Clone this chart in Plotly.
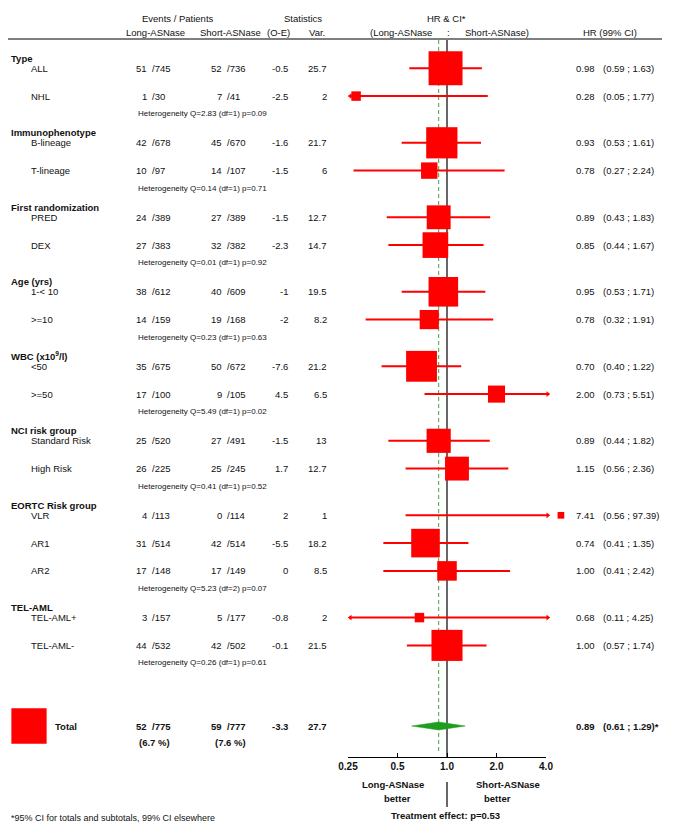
import math
import plotly.graph_objects as go

FONT = "Liberation Sans, Arial, sans-serif"
INK = "#111111"
RED = "#ff0000"
GREEN = "#1e9e1e"

# --- data -----------------------------------------------------------------
group_names = ["Type", "Immunophenotype", "First randomization", "Age (yrs)",
               "WBC (x10<sup>9</sup>/l)", "NCI risk group", "EORTC Risk group", "TEL-AML"]
group_sizes = [2, 2, 2, 2, 2, 2, 3, 2]
heterogeneity = ["Q=2.83 (df=1) p=0.09", "Q=0.14 (df=1) p=0.71", "Q=0.01 (df=1) p=0.92",
                 "Q=0.23 (df=1) p=0.63", "Q=5.49 (df=1) p=0.02", "Q=0.41 (df=1) p=0.52",
                 "Q=5.23 (df=2) p=0.07", "Q=0.26 (df=1) p=0.61"]

item_labels = ["ALL", "NHL", "B-lineage", "T-lineage", "PRED", "DEX", "1-< 10", ">=10",
               "<50", ">=50", "Standard Risk", "High Risk", "VLR", "AR1", "AR2",
               "TEL-AML+", "TEL-AML-"]
long_events = [51, 1, 42, 10, 24, 27, 38, 14, 35, 17, 25, 26, 4, 31, 17, 3, 44]
long_patients = [745, 30, 678, 97, 389, 383, 612, 159, 675, 100, 520, 225, 113, 514, 148, 157, 532]
short_events = [52, 7, 45, 14, 27, 32, 40, 19, 50, 9, 27, 25, 0, 42, 17, 5, 42]
short_patients = [736, 41, 670, 107, 389, 382, 609, 168, 672, 105, 491, 245, 114, 514, 149, 177, 502]
o_minus_e = [-0.5, -2.5, -1.6, -1.5, -1.5, -2.3, -1, -2, -7.6, 4.5, -1.5, 1.7, 2, -5.5, 0, -0.8, -0.1]
variance = [25.7, 2, 21.7, 6, 12.7, 14.7, 19.5, 8.2, 21.2, 6.5, 13, 12.7, 1, 18.2, 8.5, 2, 21.5]
hr = [0.98, 0.28, 0.93, 0.78, 0.89, 0.85, 0.95, 0.78, 0.70, 2.00, 0.89, 1.15, 7.41, 0.74, 1.00, 0.68, 1.00]
ci_low = [0.59, 0.05, 0.53, 0.27, 0.43, 0.44, 0.53, 0.32, 0.40, 0.73, 0.44, 0.56, 0.56, 0.41, 0.41, 0.11, 0.57]
ci_high = [1.63, 1.77, 1.61, 2.24, 1.83, 1.67, 1.71, 1.91, 1.22, 5.51, 1.82, 2.36, 97.39, 1.35, 2.42, 4.25, 1.74]

total_events = [52, 59]
total_patients = [775, 777]
total_oe = -3.3
total_var = 27.7
total_hr = 0.89
total_ci = [0.61, 1.29]
treatment_p = 0.53

tick_vals = [0.25, 0.5, 1.0, 2.0, 4.0]
tick_text = ["0.25", "0.5", "1.0", "2.0", "4.0"]

# --- layout of rows (page pixel units, y grows downwards) ---------------------
W, H = 675, 827
OFF = 8  # page body margin: figure pixel 0 sits at page pixel 8
header_y, item_y, het_y = [], [], []
y = 58
for n in group_sizes:
    header_y.append(y)
    y += 10.3
    for k in range(n):
        item_y.append(y)
        if k < n - 1:
            y += 27.8
    y += 17.4
    het_y.append(y)
    y += 19.0
total_y = 726
axis_y = 757

# log axis: 1.0 sits at page x=447, one doubling = 49.5 px
px_per_dec = 49.5 / math.log10(2)
x_one = 447
log_range = [(OFF - x_one) / px_per_dec, (OFF + W - x_one) / px_per_dec]
lo_clip, hi_clip, box_clip = 0.258, 4.1, 4.93
box_scale = 6.7

annotations = []


def note(x, y, text, anchor="left", size=9.5, bold=False):
    annotations.append(dict(
        x=x, y=y, xref="x", yref="y", showarrow=False,
        text=f"<b>{text}</b>" if bold else text,
        xanchor=anchor, yanchor="middle",
        font=dict(size=size, color=INK, family=FONT),
    ))


# header
note(178, 18, "Events / Patients", "center")
note(155, 32, "Long-ASNase", "center")
note(230, 32, "Short-ASNase", "center")
note(303, 18, "Statistics", "center")
note(278, 32, "(O-E)", "center")
note(317, 32, "Var.", "center")
note(446, 18, "HR & CI*", "center")
note(401, 32, "(Long-ASNase", "center")
note(448, 32, ":", "center")
note(497, 32, "Short-ASNase)", "center")
note(610, 32, "HR (99% CI)", "center")

for g, name in enumerate(group_names):
    note(9, header_y[g], name, bold=True)
    note(136, het_y[g], "Heterogeneity " + heterogeneity[g], size=8)

for i, lab in enumerate(item_labels):
    yy = item_y[i]
    note(29, yy, lab)
    note(149, yy, f"{long_events[i]}", "right")
    note(150, yy, f"/{long_patients[i]}")
    note(224, yy, f"{short_events[i]}", "right")
    note(225, yy, f"/{short_patients[i]}")
    note(290, yy, f"{o_minus_e[i]:g}", "right")
    note(329, yy, f"{variance[i]:g}", "right")
    note(574, yy, f"{hr[i]:.2f}")
    note(601, yy, f"({ci_low[i]:.2f} ; {ci_high[i]:.2f})")

# total row
note(53, total_y, "Total", bold=True)
note(149, total_y, f"{total_events[0]}", "right", bold=True)
note(150, total_y, f"/{total_patients[0]}", bold=True)
note(224, total_y, f"{total_events[1]}", "right", bold=True)
note(225, total_y, f"/{total_patients[1]}", bold=True)
note(137, total_y + 16, f"({100 * total_events[0] / total_patients[0]:.1f} %)", bold=True)
note(213, total_y + 16, f"({100 * total_events[1] / total_patients[1]:.1f} %)", bold=True)
note(290, total_y, f"{total_oe:g}", "right", bold=True)
note(329, total_y, f"{total_var:g}", "right", bold=True)
note(574, total_y, f"{total_hr:.2f}", bold=True)
note(601, total_y, f"({total_ci[0]:.2f} ; {total_ci[1]:.2f})*", bold=True)

# below axis
note(393, 784, "Long-ASNase", "center", bold=True)
note(397, 798, "better", "center", bold=True)
note(508, 784, "Short-ASNase", "center", bold=True)
note(497, 798, "better", "center", bold=True)
note(445, 815, f"Treatment effect: p={treatment_p}", "center", bold=True)
note(9, 818, "*95% CI for totals and subtotals, 99% CI elsewhere", size=9)

fig = go.Figure()

# reference lines
fig.add_trace(go.Scatter(x=[1, 1], y=[40, axis_y], xaxis="x2", mode="lines",
                         line=dict(color="black", width=1.2), hoverinfo="skip"))
fig.add_trace(go.Scatter(x=[1, 1], y=[782, 807], xaxis="x2", mode="lines",
                         line=dict(color="black", width=1.2), hoverinfo="skip"))
fig.add_trace(go.Scatter(x=[total_hr, total_hr], y=[40, axis_y - 4], xaxis="x2", mode="lines",
                         line=dict(color="#3aaa35", width=1, dash="4px,3px"), hoverinfo="skip"))

# whiskers
wx, wy = [], []
right_x, right_y, left_x, left_y = [], [], [], []
for i in range(len(hr)):
    lo = max(ci_low[i], lo_clip)
    hi = min(ci_high[i], hi_clip)
    wx += [lo, hi, None]
    wy += [item_y[i], item_y[i], None]
    if ci_high[i] > hi_clip:
        right_x.append(hi_clip)
        right_y.append(item_y[i])
    if ci_low[i] < 0.25:
        left_x.append(lo_clip)
        left_y.append(item_y[i])
fig.add_trace(go.Scatter(x=wx, y=wy, xaxis="x2", mode="lines",
                         line=dict(color=RED, width=2), hoverinfo="skip"))
fig.add_trace(go.Scatter(x=right_x, y=right_y, xaxis="x2", mode="markers",
                         marker=dict(symbol="triangle-right", size=5, color=RED, opacity=1),
                         hoverinfo="skip"))
fig.add_trace(go.Scatter(x=left_x, y=left_y, xaxis="x2", mode="markers",
                         marker=dict(symbol="triangle-left", size=5, color=RED, opacity=1),
                         hoverinfo="skip"))

# boxes (area proportional to variance)
fig.add_trace(go.Scatter(
    x=[min(h, box_clip) for h in hr], y=item_y, xaxis="x2", mode="markers",
    marker=dict(symbol="square", color=RED, opacity=1,
                size=[box_scale * math.sqrt(v) for v in variance], line=dict(width=0)),
    hovertemplate="HR %{x}<extra></extra>",
))

# total diamond
fig.add_trace(go.Scatter(
    x=[total_ci[0], total_hr, total_ci[1], total_hr, total_ci[0]],
    y=[total_y, total_y - 4, total_y, total_y + 4, total_y],
    xaxis="x2", mode="lines", fill="toself", fillcolor=GREEN,
    line=dict(color=GREEN, width=0.5), hoverinfo="skip",
))

# total box in the label column
fig.add_trace(go.Scatter(
    x=[29], y=[total_y], xaxis="x", mode="markers",
    marker=dict(symbol="square", color=RED, opacity=1,
                size=box_scale * math.sqrt(total_var), line=dict(width=0)),
    hoverinfo="skip",
))

# carrier for the visible log axis
fig.add_trace(go.Scatter(x=[1], y=[axis_y], xaxis="x3", mode="markers",
                         marker=dict(opacity=0), hoverinfo="skip"))

fig.update_layout(
    width=W, height=H, autosize=False,
    margin=dict(l=0, r=0, t=0, b=0, pad=0, autoexpand=False),
    paper_bgcolor="white", plot_bgcolor="rgba(0,0,0,0)",
    showlegend=False,
    font=dict(family=FONT, color=INK, size=9.5),
    xaxis=dict(range=[OFF, OFF + W], visible=False, domain=[0, 1]),
    xaxis2=dict(type="log", range=log_range, overlaying="x", visible=False),
    xaxis3=dict(
        type="log", domain=[(348 - OFF) / W, (546 - OFF) / W],
        range=[math.log10(tick_vals[0]), math.log10(tick_vals[-1])],
        anchor="free", position=1 - (axis_y - OFF) / H,
        tickvals=tick_vals, ticktext=[f"<b>{t}</b>" for t in tick_text],
        tickfont=dict(size=10, color=INK, family=FONT),
        ticks="inside", ticklen=4, tickcolor="black", tickwidth=1,
        showline=True, linecolor="black", linewidth=1.2,
        showgrid=False, zeroline=False,
    ),
    yaxis=dict(range=[OFF + H, OFF], visible=False, domain=[0, 1]),
    shapes=[dict(type="line", xref="x", yref="y", x0=0, x1=662, y0=39, y1=39,
                 line=dict(color="black", width=1.2))],
    annotations=annotations,
)

fig.write_html("out.html")
